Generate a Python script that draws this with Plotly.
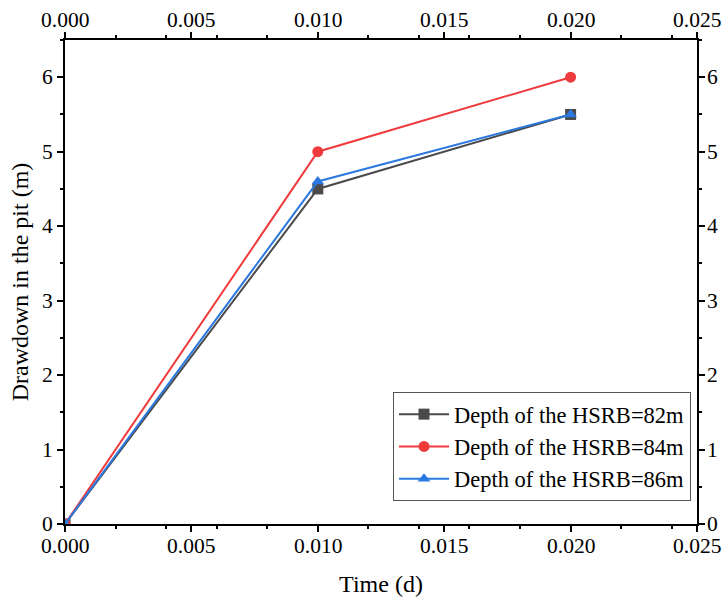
import plotly.graph_objects as go

time = [0.0, 0.01, 0.02]
d82 = [0.0, 4.5, 5.5]
d84 = [0.0, 5.0, 6.0]
d86 = [0.0, 4.6, 5.5]
names = ["Depth of the HSRB=82m", "Depth of the HSRB=84m", "Depth of the HSRB=86m"]
colors = ["#4a4a4a", "#ef3b3d", "#2a78e0"]
symbols = ["square", "circle", "triangle-up"]

xtick_vals = [0.0, 0.005, 0.01, 0.015, 0.02, 0.025]
xtick_text = ["0.000", "0.005", "0.010", "0.015", "0.020", "0.025"]
ytick_vals = [0, 1, 2, 3, 4, 5, 6]
ytick_text = ["0", "1", "2", "3", "4", "5", "6"]

SERIF = "Liberation Serif"
TICKF = dict(family=SERIF, size=21.5, color="black")

fig = go.Figure()
for ys, n, c, s in zip([d82, d84, d86], names, colors, symbols):
    fig.add_trace(go.Scatter(x=time, y=ys, name=n, mode="lines+markers",
                             line=dict(color=c, width=2),
                             marker=dict(symbol=s, size=11, color=c)))


def ax():
    return dict(showgrid=False, zeroline=False, showline=True, linecolor="black", linewidth=2,
                mirror="allticks", ticks="outside", ticklen=6, tickwidth=2, tickcolor="black",
                showticklabels=False,
                minor=dict(ticks="outside", ticklen=3, tickwidth=2, tickcolor="black"))

annotations = []
for v, t in zip(xtick_vals, xtick_text):
    annotations.append(dict(x=v, xref="x", y=0, yref="paper", text=t, showarrow=False,
                            xanchor="center", yanchor="top", yshift=-8, font=TICKF))
    annotations.append(dict(x=v, xref="x", y=1, yref="paper", text=t, showarrow=False,
                            xanchor="center", yanchor="bottom", yshift=6, font=TICKF))
for v, t in zip(ytick_vals, ytick_text):
    annotations.append(dict(x=0, xref="paper", y=v, yref="y", text=t, showarrow=False,
                            xanchor="right", yanchor="middle", xshift=-10, font=TICKF))
    annotations.append(dict(x=1, xref="paper", y=v, yref="y", text=t, showarrow=False,
                            xanchor="left", yanchor="middle", xshift=8, font=TICKF))

fig.update_layout(
    width=725, height=604,
    margin=dict(l=65, r=28, t=40, b=80),
    paper_bgcolor="white", plot_bgcolor="white",
    font=dict(family=SERIF, size=20, color="black"),
    xaxis=dict(range=[0, 0.025], tickvals=xtick_vals,
               title=dict(text="Time (d)", font=dict(family=SERIF, size=24, color="black"), standoff=44),
               **ax()),
    yaxis=dict(range=[0, 6.5], tickvals=ytick_vals,
               title=dict(text="Drawdown in the pit (m)", font=dict(family=SERIF, size=24, color="black"), standoff=22),
               **ax()),
    annotations=annotations,
    legend=dict(x=0.519, y=0.2727, xanchor="left", yanchor="top",
                bordercolor="#555", borderwidth=1, bgcolor="white",
                font=dict(family=SERIF, size=22.5, color="black"), tracegroupgap=0,
                itemwidth=50),
    showlegend=True,
)
fig.write_html("out.html")
